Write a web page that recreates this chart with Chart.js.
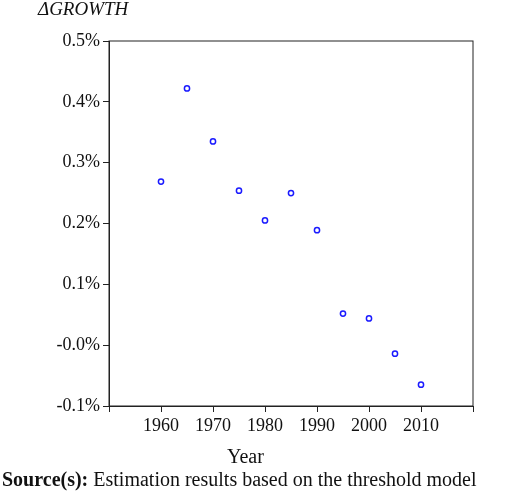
<!DOCTYPE html>
<html><head><meta charset="utf-8">
<script src="https://cdn.jsdelivr.net/npm/chart.js@4/dist/chart.umd.min.js"></script>
<style>
body{margin:0;background:#fff;font-family:"Liberation Serif","Times New Roman",serif;}
#wrap{position:relative;width:520px;height:500px;}
.t{position:absolute;color:#111;white-space:nowrap;}
</style></head><body>
<div id="wrap">
<canvas id="c" width="520" height="500"></canvas>
<div class="t" style="left:38px;top:-2px;font-size:19px;font-style:italic;">ΔGROWTH</div>
<div class="t" style="left:227px;top:445px;font-size:20px;">Year</div>
<div class="t" style="left:2px;top:468px;font-size:20px;"><b>Source(s):</b> Estimation results based on the threshold model</div>
</div>
<script>
const years = [1960, 1965, 1970, 1975, 1980, 1985, 1990, 1995, 2000, 2005, 2010];
const growth = [0.269, 0.422, 0.335, 0.254, 0.205, 0.250, 0.189, 0.052, 0.044, -0.014, -0.065];
const xLabels = [1960, 1970, 1980, 1990, 2000, 2010];

const boxPlugin = {
    id: 'box',
    afterDraw(chart) {
        const a = chart.chartArea, ctx = chart.ctx;
        ctx.save(); ctx.strokeStyle = '#222'; ctx.lineWidth = 1;
        ctx.strokeRect(a.left, a.top, a.right - a.left, a.bottom - a.top);
        ctx.restore();
    }
};

new Chart(document.getElementById('c'), {
    type: 'scatter',
    data: { datasets: [{
        data: years.map((y, i) => ({ x: y, y: growth[i] })),
        pointRadius: 2.6, borderColor: '#1a1aff', backgroundColor: '#fff', borderWidth: 1.5
    }] },
    options: {
        responsive: false, animation: false,
        layout: { padding: { top: 41, right: 47, left: 0, bottom: 0 } },
        plugins: { legend: { display: false }, tooltip: { enabled: false } },
        scales: {
            x: {
                min: 1950, max: 2020,
                afterFit: s => { s.height = 94; },
                afterBuildTicks: s => { s.ticks = [1950,1960,1970,1980,1990,2000,2010,2020].map(v => ({ value: v })); },
                grid: { drawOnChartArea: false, tickLength: 6, color: '#222' },
                border: { color: '#222' },
                ticks: { color: '#111', font: { family: 'Liberation Serif', size: 18 },
                    callback: v => xLabels.includes(v) ? String(v) : '' }
            },
            y: {
                min: -0.1, max: 0.5,
                afterFit: s => { s.width = 109; },
                grid: { drawOnChartArea: false, tickLength: 6, color: '#222' },
                border: { color: '#222' },
                ticks: { stepSize: 0.1, color: '#111', font: { family: 'Liberation Serif', size: 18 },
                    callback: v => v.toFixed(1) + '%' }
            }
        }
    },
    plugins: [boxPlugin]
});
</script>
</body></html>
